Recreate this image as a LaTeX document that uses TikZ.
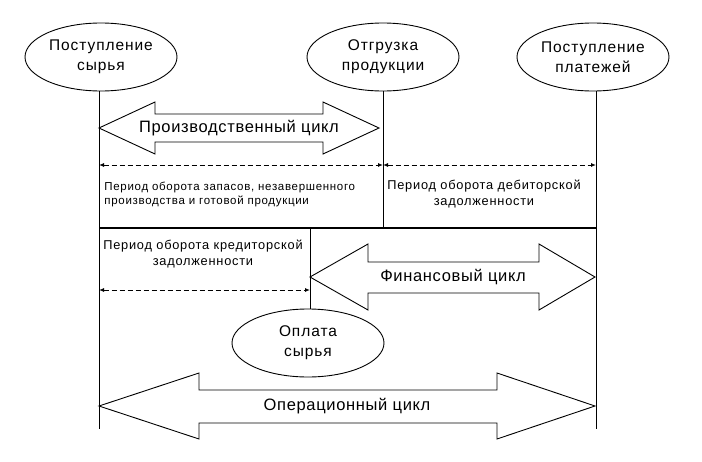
\documentclass[tikz,border=0pt]{standalone}
\usepackage{fontspec}
\setmainfont{Liberation Sans}
\usetikzlibrary{arrows.meta,shapes.geometric}
\begin{document}
\begin{tikzpicture}[x=1pt,y=-1pt,line width=0.9pt,
  ell/.style={draw,ellipse,minimum width=152pt,minimum height=68pt,inner sep=0pt,align=center,
    font=\fontsize{15.5}{20}\selectfont\addfontfeatures{LetterSpace=6}},
  bigarrow/.style={draw,line width=0.9pt,line join=miter},
  biglabel/.style={inner sep=0pt,font=\fontsize{16.5}{20}\selectfont\addfontfeatures{LetterSpace=4}},
  smalltext/.style={inner sep=0pt},
  thin/.style={line width=0.9pt},
  dasharrow/.style={line width=0.9pt,dash pattern=on 5pt off 3pt,
    {Latex[length=5pt,width=4pt]}-{Latex[length=5pt,width=4pt]}},
  thick line/.style={line width=2pt}]
\useasboundingbox (0,0) rectangle (702,461);
% ellipses
\node[ell] (e1) at (101,57) {Поступление\\сырья};
\node[ell] (e2) at (383,57) {Отгрузка\\продукции};
\node[ell] (e3) at (593,57) {Поступление\\платежей};
\node[ell] (e4) at (308,343) {Оплата\\сырья};
% coordinates
\coordinate (b1) at (99,429);
\coordinate (b3) at (596,429);
\coordinate (m2) at (383,228);
\coordinate (m4) at (310,228);
\coordinate (t1) at (99,228);
\coordinate (t3) at (596,228);
% vertical lines
\draw[thin] (b1 |- e1.south) -- (b1);
\draw[thin] (e2.south) -- (m2);
\draw[thin] (b3 |- e3.south) -- (b3);
\draw[thin] (m4) -- (m4 |- e4.north);
% thick line
\draw[thick line] (t1) -- (t3);
% production cycle arrow
\draw[bigarrow] (99,128) -- (155,102) -- (155,114) -- (323,114) -- (323,102) -- (379,128)
  -- (323,154) -- (323,142) -- (155,142) -- (155,154) -- cycle;
\node[biglabel] (pc) at (239,128) {Производственный цикл};
% financial cycle arrow
\draw[bigarrow] (310,277) -- (368,244) -- (368,262) -- (539,262) -- (539,244) -- (595,277)
  -- (539,310) -- (539,293) -- (368,293) -- (368,310) -- cycle;
\node[biglabel] (fc) at (453,277) {Финансовый цикл};
% operating cycle arrow
\draw[bigarrow] (99,406) -- (199,373) -- (199,390) -- (497,390) -- (497,373) -- (595,406)
  -- (497,439) -- (497,423) -- (199,423) -- (199,439) -- cycle;
\node[biglabel] (oc) at (347,406) {Операционный цикл};
% dashed period arrows
\coordinate (d1l) at (99,165);
\coordinate (d1r) at (383,165);
\coordinate (d2r) at (596,165);
\coordinate (d3l) at (99,290);
\coordinate (d3r) at (310,290);
\draw[dasharrow] (d1l) -- (d1r);
\draw[dasharrow] (d1r) -- (d2r);
\draw[dasharrow] (d3l) -- (d3r);
% period texts
\node[smalltext,anchor=west,align=left,
  font=\fontsize{11.5}{14}\selectfont\addfontfeatures{LetterSpace=6}] (p1) at (104,194)
  {Период оборота запасов, незавершенного\\производства и готовой продукции};
\node[smalltext,align=center,
  font=\fontsize{12.8}{16.5}\selectfont\addfontfeatures{LetterSpace=6}] (p2) at (484,194)
  {Период оборота дебиторской\\задолженности};
\node[smalltext,align=center,
  font=\fontsize{12.8}{16.5}\selectfont\addfontfeatures{LetterSpace=6}] (p3) at (203,254)
  {Период оборота кредиторской\\задолженности};
\end{tikzpicture}
\end{document}
